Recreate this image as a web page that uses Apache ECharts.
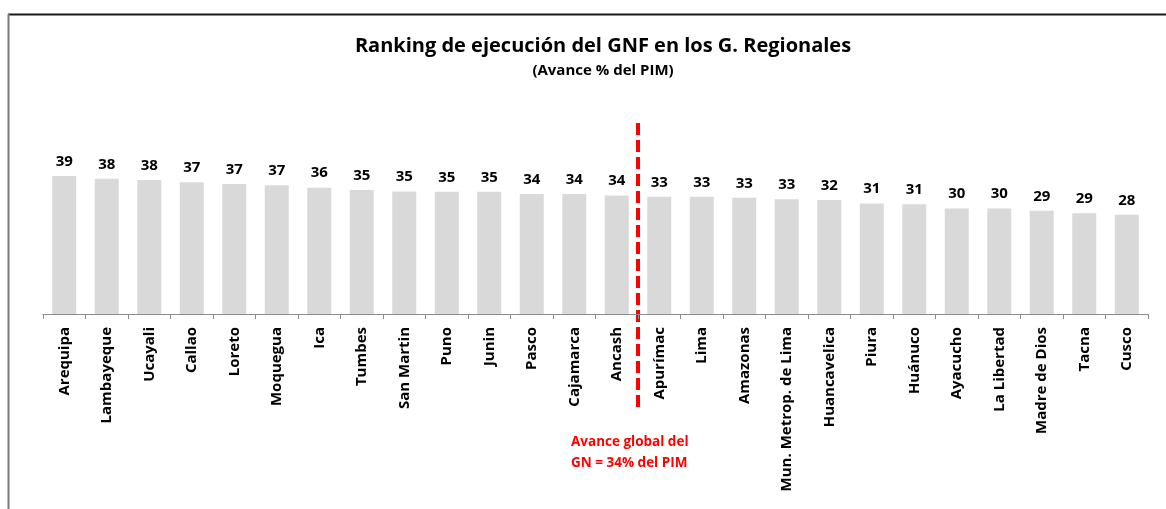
<!DOCTYPE html>
<html>
<head>
<meta charset="utf-8">
<script src="https://cdn.jsdelivr.net/npm/echarts@6/dist/echarts.min.js"></script>
<style>
  html, body { margin: 0; padding: 0; background: #fff; }
  #chartBox { width: 1166px; height: 509px; }
</style>
</head>
<body>
<div id="chartBox"></div>
<script>
// regiones y avance (% del PIM)
var regiones = ['Arequipa', 'Lambayeque', 'Ucayali', 'Callao', 'Loreto', 'Moquegua', 'Ica', 'Tumbes',
  'San Martin', 'Puno', 'Junin', 'Pasco', 'Cajamarca', 'Ancash', 'Apurímac', 'Lima', 'Amazonas',
  'Mun. Metrop. de Lima', 'Huancavelica', 'Piura', 'Huánuco', 'Ayacucho', 'La Libertad',
  'Madre de Dios', 'Tacna', 'Cusco'];
var avance = [39.2, 38.4, 38.1, 37.4, 36.9, 36.6, 35.9, 35.2, 34.8, 34.7, 34.7, 34.1, 34.1, 33.7,
  33.3, 33.3, 33.0, 32.6, 32.4, 31.4, 31.2, 30.0, 30.0, 29.3, 28.6, 28.2];
// la linea roja va entre Ancash y Apurímac
var corteAntes = 'Ancash';
var corteDespues = 'Apurímac';
var avanceGlobal = 34;

var fontName = '"Open Sans", sans-serif';
var chart = echarts.init(document.getElementById('chartBox'));

var option = {
  animation: false,
  title: {
    text: 'Ranking de ejecución del GNF en los G. Regionales',
    subtext: '(Avance % del PIM)',
    left: 598,
    textAlign: 'center',
    top: 31,
    itemGap: 7,
    textStyle: { fontFamily: fontName, fontWeight: 'bold', fontSize: 20, color: '#000' },
    subtextStyle: { fontFamily: fontName, fontWeight: 'bold', fontSize: 15, color: '#000' }
  },
  grid: { left: 43, right: 18, top: 138, bottom: 195 },
  xAxis: {
    type: 'category',
    data: regiones,
    axisLine: { lineStyle: { color: '#8c8c8c', width: 1 } },
    axisTick: { show: true, length: 5, alignWithLabel: false, lineStyle: { color: '#8c8c8c' } },
    axisLabel: {
      rotate: 90, interval: 0, margin: 13,
      fontFamily: fontName, fontWeight: 'bold', fontSize: 15, color: '#000'
    }
  },
  yAxis: {
    type: 'value', min: 0, max: 50,
    show: false,
    splitLine: { show: false }
  },
  series: [{
    type: 'bar',
    data: avance,
    barWidth: 24,
    itemStyle: { color: '#d9d9d9' },
    label: {
      show: true, position: 'top', distance: 7,
      fontFamily: fontName, fontWeight: 'bold', fontSize: 15, color: '#000',
      formatter: function (p) { return Math.round(p.value); }
    }
  }]
};
chart.setOption(option);

// posicion de la linea roja (limite entre dos categorias)
var xa = chart.convertToPixel({ xAxisIndex: 0 }, corteAntes);
var xb = chart.convertToPixel({ xAxisIndex: 0 }, corteDespues);
var xCorte = (xa + xb) / 2;

chart.setOption({
  graphic: [
    { type: 'line', shape: { x1: 8, y1: 14.5, x2: 1166, y2: 14.5 }, style: { stroke: '#1a1a1a', lineWidth: 2 } },
    { type: 'line', shape: { x1: 8.5, y1: 14, x2: 8.5, y2: 509 }, style: { stroke: '#7a7a7a', lineWidth: 2 } },
    {
      type: 'line', shape: { x1: xCorte, y1: 123, x2: xCorte, y2: 408 },
      style: { stroke: '#ff0000', lineWidth: 4, lineDash: [12, 5] }
    },
    {
      type: 'text', left: 571, top: 432,
      style: {
        text: 'Avance global del\nGN = ' + avanceGlobal + '% del PIM',
        fill: '#ff0000', font: 'bold 13.5px ' + fontName, lineHeight: 21
      }
    }
  ]
});
</script>
</body>
</html>
